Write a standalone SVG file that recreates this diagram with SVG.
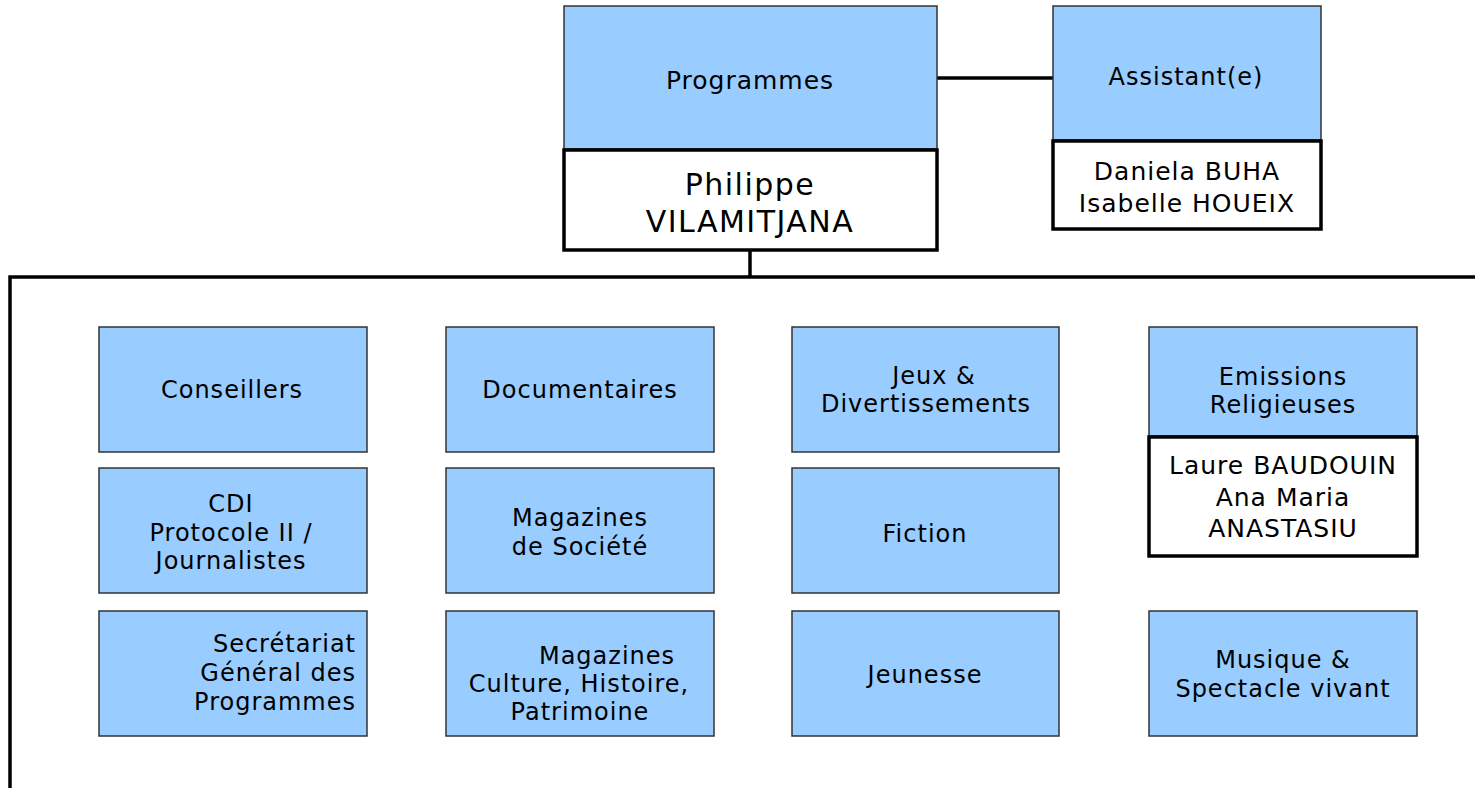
<svg xmlns="http://www.w3.org/2000/svg" width="1475" height="788" viewBox="0 0 1475 788">
<style>
.blue{fill:#99CCFF;stroke:#333333;stroke-width:1.5}
.name{fill:#FFFFFF;stroke:#000000;stroke-width:3.5}
.t{font-family:"DejaVu Sans","Liberation Sans",sans-serif;font-size:24px;fill:#000;text-anchor:middle;letter-spacing:1px}
.tn{font-family:"DejaVu Sans","Liberation Sans",sans-serif;font-size:25px;fill:#000;text-anchor:middle;letter-spacing:1px}
.tb{font-family:"DejaVu Sans","Liberation Sans",sans-serif;font-size:30px;fill:#000;text-anchor:middle;letter-spacing:1.5px}
.line{stroke:#000;stroke-width:3.5;fill:none}
</style>
<rect width="1475" height="788" fill="#FFFFFF"/>
<g id="connectors">
<line class="line" x1="937" y1="78" x2="1053" y2="78"/>
<line class="line" x1="750" y1="251" x2="750" y2="277"/>
<polyline class="line" points="1475,277 10,277 10,788"/>
</g>
<g id="programmes">
<rect class="blue" x="564" y="6" width="373" height="143"/>
<text class="tn" x="750" y="89">Programmes</text>
</g>
<g id="philippe">
<rect class="name" x="564" y="150" width="373" height="100"/>
<text class="tb" x="750" y="195">Philippe</text>
<text class="tb" x="750" y="232">VILAMITJANA</text>
</g>
<g id="assistant">
<rect class="blue" x="1053" y="6" width="268" height="134"/>
<text class="t" x="1186" y="85">Assistant(e)</text>
</g>
<g id="assistant-names">
<rect class="name" x="1053" y="141" width="268" height="88"/>
<text class="tn" x="1187" y="180">Daniela BUHA</text>
<text class="tn" x="1187" y="212">Isabelle HOUEIX</text>
</g>
<g id="conseillers">
<rect class="blue" x="99" y="327" width="268" height="125"/>
<text class="t" x="232" y="398">Conseillers</text>
</g>
<g id="cdi">
<rect class="blue" x="99" y="468" width="268" height="125"/>
<text class="t" x="231" y="512">CDI</text>
<text class="t" x="231" y="541">Protocole II /</text>
<text class="t" x="231" y="569">Journalistes</text>
</g>
<g id="secretariat">
<rect class="blue" x="99" y="611" width="268" height="125"/>
<text class="t" x="356" y="652" style="text-anchor:end">Secrétariat</text>
<text class="t" x="356" y="681" style="text-anchor:end">Général des</text>
<text class="t" x="356" y="710" style="text-anchor:end">Programmes</text>
</g>
<g id="documentaires">
<rect class="blue" x="446" y="327" width="268" height="125"/>
<text class="t" x="580" y="398">Documentaires</text>
</g>
<g id="magazines-societe">
<rect class="blue" x="446" y="468" width="268" height="125"/>
<text class="t" x="580" y="526">Magazines</text>
<text class="t" x="580" y="555">de Société</text>
</g>
<g id="magazines-culture">
<rect class="blue" x="446" y="611" width="268" height="125"/>
<text class="t" x="607" y="664">Magazines</text>
<text class="t" x="579" y="692">Culture, Histoire,</text>
<text class="t" x="580" y="720">Patrimoine</text>
</g>
<g id="jeux">
<rect class="blue" x="792" y="327" width="267" height="125"/>
<text class="t" x="934" y="384">Jeux &amp;</text>
<text class="t" x="926" y="412">Divertissements</text>
</g>
<g id="fiction">
<rect class="blue" x="792" y="468" width="267" height="125"/>
<text class="t" x="925" y="542">Fiction</text>
</g>
<g id="jeunesse">
<rect class="blue" x="792" y="611" width="267" height="125"/>
<text class="t" x="925" y="683">Jeunesse</text>
</g>
<g id="emissions">
<rect class="blue" x="1149" y="327" width="268" height="109"/>
<text class="t" x="1283" y="385">Emissions</text>
<text class="t" x="1283" y="413">Religieuses</text>
</g>
<g id="emissions-names">
<rect class="name" x="1149" y="437" width="268" height="119"/>
<text class="tn" x="1283" y="474">Laure BAUDOUIN</text>
<text class="tn" x="1283" y="506">Ana Maria</text>
<text class="tn" x="1283" y="537">ANASTASIU</text>
</g>
<g id="musique">
<rect class="blue" x="1149" y="611" width="268" height="125"/>
<text class="t" x="1283" y="668">Musique &amp;</text>
<text class="t" x="1283" y="697">Spectacle vivant</text>
</g>
</svg>
